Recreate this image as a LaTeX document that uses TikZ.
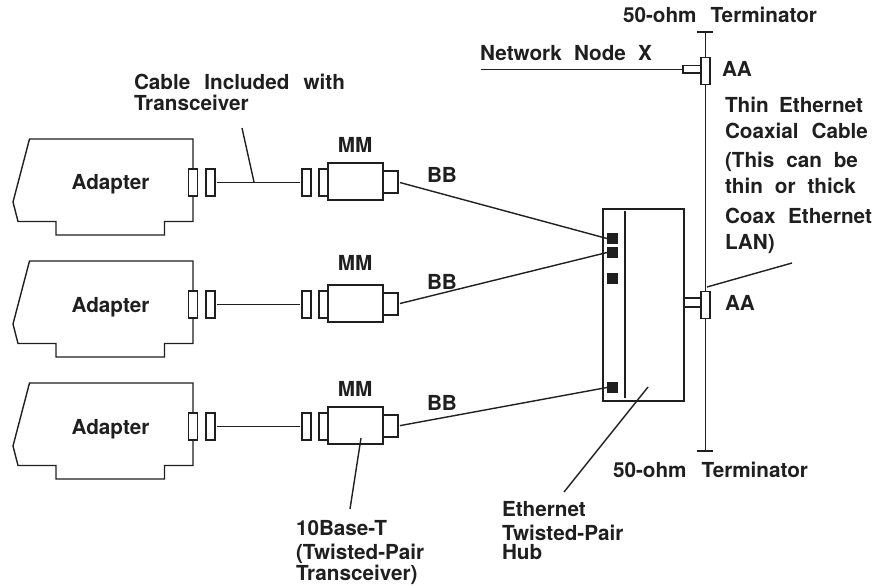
\documentclass[tikz,border=0pt]{standalone}
\usepackage{fontspec}
\setmainfont{TeX Gyre Heros}
\hbadness=10000
\hfuzz=50pt
\newcommand{\jline}[2]{\hbox to #1pt{#2}}
\tikzset{
  ln/.style={draw=black!88,line width=1.4pt},
  box/.style={ln,fill=white,inner sep=0pt,outer sep=0pt,rectangle},
  plug/.style={box,minimum width=9pt,minimum height=27pt},
  lbl/.style={inner sep=0pt,outer sep=0pt,font=\bfseries\fontsize{20.7pt}{24pt}\selectfont,text=black!88,anchor=base west},
  sq/.style={fill=black!88,inner sep=0pt,outer sep=0pt,minimum size=11pt,rectangle},
  gap/.style={shorten <=2pt,shorten >=2pt}
}
\begin{document}
\begin{tikzpicture}[x=1pt,y=-1pt]
\useasboundingbox (0,0) rectangle (878,588);
% hub
\node[box,minimum width=81pt,minimum height=192pt] (hub) at (643.5,305) {};
\coordinate (hubT) at (625,211);
\coordinate (hubB) at (625,398);
\draw[ln] (hubT) -- (hubB);
\node[sq] (p1) at (612.5,238.5) {};
\node[sq] (p2) at (612.5,252.5) {};
\node[sq] (p3) at (612.5,278.5) {};
\node[sq] (p4) at (612.5,387.5) {};
% adapters
\foreach \i/\o/\p/\mmy/\bby in {1/0/p1/153/183,2/122/p2/270/289,3/244/p4/396/410}{
  \begin{scope}[yshift=-\o pt]
  \draw[ln,line join=miter] (193,182) -- (193,139) -- (29.5,139) -- (13,202) -- (18,221.5) -- (56,221.5) -- (56,235) -- (164.5,235) -- (164.5,221.5) -- (193,221.5) -- (193,182);
  \node[plug] (a\i) at (193,182.5) {};
  \node[plug] (b\i) at (210.5,182.5) {};
  \node[plug] (c\i) at (306.5,182.5) {};
  \node[plug] (d\i) at (323.5,182.5) {};
  \node[box,minimum width=55pt,minimum height=37pt] (m\i) at (355.5,181.5) {};
  \node[box,minimum width=15pt,minimum height=22pt] (n\i) at (390.5,182) {};
  \node[lbl,anchor=base] (ad\i) at (110.5,190) {Adapter};
  \end{scope}
  \node[lbl,anchor=base] (mm\i) at (355,\mmy) {MM};
  \node[lbl] (bb\i) at (427,\bby) {BB};
  \draw[ln,gap] (b\i) -- (c\i);
  \draw[ln,shorten <=2pt] (n\i.east) -- (\p.west);
}
% coax
\coordinate (tt) at (705.5,32);
\coordinate (tb) at (705.5,451);
\draw[ln] (tt) -- (tb);
\coordinate (tt1) at (697,32); \coordinate (tt2) at (712.5,32);
\coordinate (tb1) at (697,451); \coordinate (tb2) at (712.5,451);
\draw[ln] (tt1) -- (tt2);
\draw[ln] (tb1) -- (tb2);
\node[box,minimum width=18pt,minimum height=7.5pt] (s1) at (692,69.2) {};
\node[box,minimum width=18pt,minimum height=9pt] (s2) at (693,302.5) {};
\node[plug] (t1) at (705.5,71) {};
\node[plug] (t2) at (705.5,305) {};
% node X
\coordinate (nx) at (480.5,69.5);
\draw[ln] (nx) -- (nx -| s1.west);
% labels
\node[lbl] (tx1) at (623,23) {\jline{194}{50-ohm Terminator}};
\node[lbl] (tx2) at (480,60.5) {\jline{172}{Network Node X}};
\node[lbl] (aa1) at (722,77) {AA};
\node[lbl] (aa2) at (725,310) {AA};
\node[lbl] (th1) at (725,112.5) {\jline{138}{Thin Ethernet}};
\node[lbl] (th2) at (725,138.5) {\jline{143}{Coaxial Cable}};
\node[lbl] (th3) at (725,167.5) {\jline{133}{(This can be}};
\node[lbl] (th4) at (725,194) {\jline{131}{thin or thick}};
\node[lbl] (th5) at (725,223) {\jline{147}{Coax Ethernet}};
\node[lbl] (th6) at (725,250) {LAN)};
\node[lbl] (cb1) at (134,90) {\jline{211}{Cable Included with}};
\node[lbl] (cb2) at (134,111) {Transceiver};
\node[lbl] (tx3) at (613,477) {\jline{195}{50-ohm Terminator}};
\node[lbl] (hb1) at (502,516) {Ethernet};
\node[lbl] (hb2) at (502,540) {Twisted-Pair};
\node[lbl] (hb3) at (502,559) {Hub};
\node[lbl] (bt1) at (296,535) {10Base-T};
\node[lbl] (bt2) at (296,559) {(Twisted-Pair};
\node[lbl] (bt3) at (296,580) {Transceiver)};
% leaders
\coordinate (l1a) at (242,128); \coordinate (l1b) at (254,182);
\draw[ln] (l1a) -- (l1b);
\coordinate (l2a) at (792,263); \coordinate (l2b) at (707,287);
\draw[ln] (l2a) -- (l2b);
\coordinate (l3a) at (361,438); \coordinate (l3b) at (350,509);
\draw[ln] (l3a) -- (l3b);
\coordinate (l4a) at (648,387); \coordinate (l4b) at (564,492);
\draw[ln] (l4a) -- (l4b);
\end{tikzpicture}
\end{document}
